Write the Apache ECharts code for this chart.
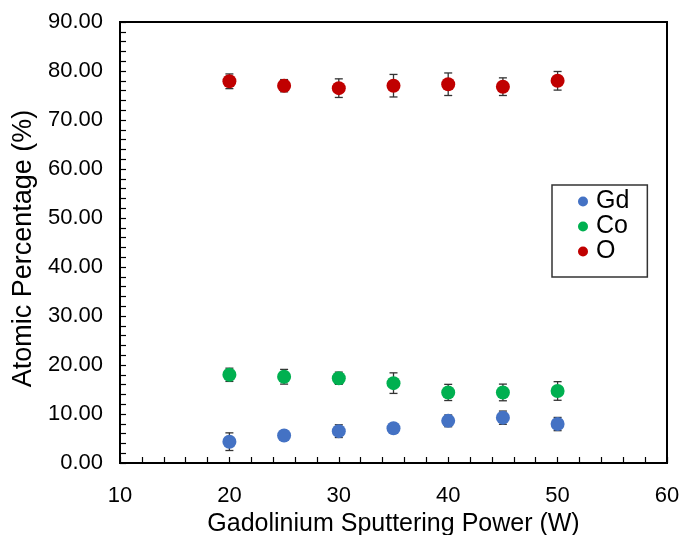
<!DOCTYPE html>
<html>
<head>
<meta charset="utf-8">
<script src="https://cdn.jsdelivr.net/npm/echarts@6/dist/echarts.min.js"></script>
<style>
html,body{margin:0;padding:0;background:#fff;}
#chart{width:685px;height:535px;}
</style>
</head>
<body>
<div id="chart"></div>
<script>
const powers = [20, 25, 30, 35, 40, 45, 50];
const gdValues = [4.35, 5.6, 6.5, 7.1, 8.6, 9.25, 7.95];
const gdErrors = [1.8, 0.8, 1.3, 0.8, 1.2, 1.35, 1.35];
const coValues = [18.0, 17.6, 17.3, 16.3, 14.4, 14.4, 14.7];
const coErrors = [1.35, 1.5, 1.25, 2.1, 1.65, 1.7, 1.9];
const oValues = [77.9, 77.0, 76.5, 77.0, 77.3, 76.8, 78.0];
const oErrors = [1.5, 1.25, 1.9, 2.3, 2.3, 1.8, 1.9];
const seriesNames = ['Gd', 'Co', 'O'];
const seriesColors = ['#4472C4', '#00B050', '#C00000'];

const FONT = 'Liberation Sans, Arial, Helvetica, sans-serif';
const allValues = [gdValues, coValues, oValues];
const allErrors = [gdErrors, coErrors, oErrors];

function errorSeries(vals, errs) {
  return {
    type: 'custom',
    z: 1,
    silent: true,
    data: powers.map((p, i) => [p, vals[i] - errs[i], vals[i] + errs[i]]),
    renderItem: function (params, api) {
      const lo = api.coord([api.value(0), api.value(1)]);
      const hi = api.coord([api.value(0), api.value(2)]);
      const w = 4;
      const style = { stroke: '#333', lineWidth: 1.3 };
      return {
        type: 'group',
        children: [
          { type: 'line', shape: { x1: lo[0], y1: lo[1], x2: hi[0], y2: hi[1] }, style: style },
          { type: 'line', shape: { x1: lo[0] - w, y1: lo[1], x2: lo[0] + w, y2: lo[1] }, style: style },
          { type: 'line', shape: { x1: hi[0] - w, y1: hi[1], x2: hi[0] + w, y2: hi[1] }, style: style }
        ]
      };
    }
  };
}

const series = [];
seriesNames.forEach((name, k) => {
  series.push(errorSeries(allValues[k], allErrors[k]));
});
seriesNames.forEach((name, k) => {
  series.push({
    name: name,
    type: 'scatter',
    z: 3,
    symbol: 'circle',
    symbolSize: 14,
    itemStyle: { color: seriesColors[k], opacity: 1 },
    data: powers.map((p, i) => [p, allValues[k][i]])
  });
});

const chart = echarts.init(document.getElementById('chart'), null, { renderer: 'canvas' });
chart.setOption({
  animation: false,
  backgroundColor: '#fff',
  textStyle: { fontFamily: FONT },
  grid: {
    left: 120, right: 18, top: 22, bottom: 72,
    containLabel: false,
    outerBoundsMode: 'none',
    show: true, borderColor: '#000', borderWidth: 2, backgroundColor: 'transparent'
  },
  legend: {
    data: seriesNames,
    orient: 'vertical',
    left: 552,
    top: 185,
    icon: 'circle',
    itemWidth: 10,
    itemHeight: 10,
    itemGap: 0,
    padding: [4, 18, 13, 26],
    borderColor: '#333',
    borderWidth: 1.5,
    backgroundColor: '#fff',
    textStyle: { fontSize: 25, lineHeight: 24, color: '#000', fontFamily: FONT, padding: [0, 0, 0, 3] }
  },
  xAxis: {
    type: 'value',
    min: 10, max: 60, interval: 10,
    name: 'Gadolinium Sputtering Power (W)',
    nameLocation: 'middle',
    nameGap: 46,
    nameTextStyle: { fontSize: 25, color: '#000', fontFamily: FONT },
    axisLine: { show: true, onZero: false, lineStyle: { color: '#000', width: 2 } },
    axisTick: { show: true, inside: true, length: 6, lineStyle: { color: '#000', width: 1.2 } },
    minorTick: { show: true, splitNumber: 5, length: 6, lineStyle: { color: '#000', width: 1.2 } },
    axisLabel: { fontSize: 22, color: '#000', margin: 22, fontFamily: FONT },
    splitLine: { show: false },
    minorSplitLine: { show: false }
  },
  yAxis: {
    type: 'value',
    min: 0, max: 90, interval: 10,
    name: 'Atomic Percentage (%)',
    nameLocation: 'middle',
    nameGap: 78,
    nameTextStyle: { fontSize: 27, color: '#000', fontFamily: FONT, padding: [0, 12, 0, 0] },
    axisLine: { show: true, onZero: false, lineStyle: { color: '#000', width: 2 } },
    axisTick: { show: true, inside: true, length: 6, lineStyle: { color: '#000', width: 1.2 } },
    minorTick: { show: true, splitNumber: 5, length: 6, lineStyle: { color: '#000', width: 1.2 } },
    axisLabel: { fontSize: 22, color: '#000', margin: 17, fontFamily: FONT, formatter: v => v.toFixed(2) },
    splitLine: { show: false },
    minorSplitLine: { show: false }
  },
  series: series
});
</script>
</body>
</html>
